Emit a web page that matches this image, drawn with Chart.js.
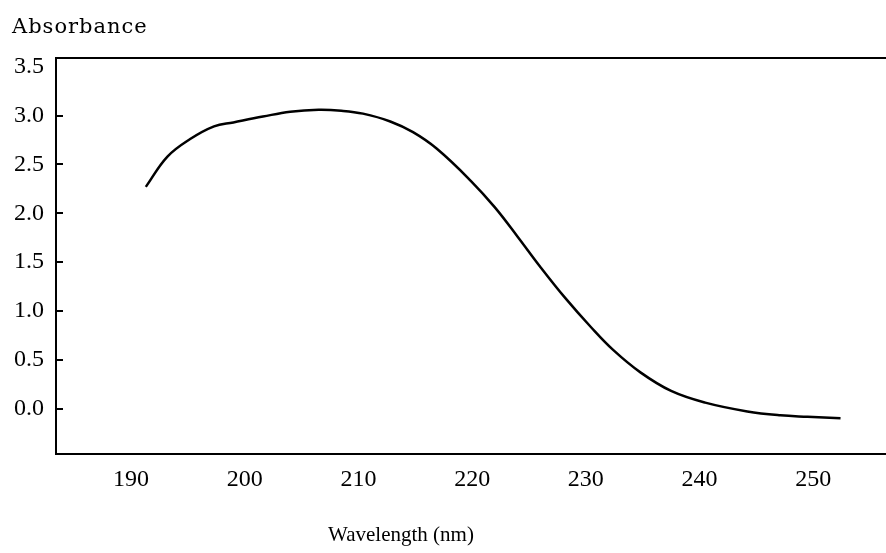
<!DOCTYPE html>
<html>
<head>
<meta charset="utf-8">
<title>Absorbance spectrum</title>
<script src="https://cdn.jsdelivr.net/npm/chart.js@4"></script>
<style>
  html, body { margin: 0; padding: 0; background: #fff; }
  #wrap { width: 886px; height: 553px; position: relative; }
</style>
</head>
<body>
<div id="wrap"><canvas id="spectrum"></canvas></div>
<script>
// spectrum readings
const wavelength = [191.3, 193.2, 195.2, 197.3, 199.0, 201.6, 204.0, 206.5, 208.5,
  210.4, 212.8, 214.8, 216.9, 219.9, 222.0, 224.0, 226.0, 228.2, 230.4,
  232.4, 234.8, 237.5, 240.5, 244.2, 247.1, 249.5, 252.4];
const absorbance = [2.27, 2.58, 2.76, 2.89, 2.93, 2.99, 3.04, 3.06, 3.05,
  3.02, 2.94, 2.83, 2.66, 2.33, 2.06, 1.76, 1.45, 1.13, 0.84,
  0.60, 0.37, 0.18, 0.06, -0.03, -0.07, -0.085, -0.10];

const xTicks = [190, 200, 210, 220, 230, 240, 250];
const yTicks = [0, 0.5, 1.0, 1.5, 2.0, 2.5, 3.0, 3.5];

const numFont = { family: 'Liberation Serif', size: 24 };

// frame line on top + short inward ticks on the y axis + axis titles
const framePlugin = {
  id: 'frame',
  afterDraw(chart) {
    const ctx = chart.ctx;
    const area = chart.chartArea;
    const y = chart.scales.y;
    ctx.save();
    ctx.strokeStyle = '#000';
    ctx.lineWidth = 2;
    ctx.beginPath();
    ctx.moveTo(area.left, area.top);
    ctx.lineTo(area.right, area.top);
    y.ticks.forEach((t, i) => {
      if (i === y.ticks.length - 1) return;
      const py = Math.round(y.getPixelForValue(t.value));
      ctx.moveTo(area.left, py);
      ctx.lineTo(area.left + 7, py);
    });
    ctx.stroke();

    ctx.fillStyle = '#000';
    ctx.textBaseline = 'alphabetic';
    ctx.font = '21px "DejaVu Serif"';
    ctx.letterSpacing = '1px';
    ctx.textAlign = 'left';
    ctx.fillText('Absorbance', 12, 33);
    ctx.letterSpacing = '0px';
    ctx.font = '21px "Liberation Serif"';
    ctx.textAlign = 'center';
    ctx.fillText('Wavelength (nm)', 401, 541);
    ctx.restore();
  }
};

new Chart(document.getElementById('spectrum'), {
  type: 'line',
  data: {
    datasets: [{
      data: wavelength.map((w, i) => ({ x: w, y: absorbance[i] })),
      borderColor: '#000',
      borderWidth: 2.5,
      pointRadius: 0,
      fill: false,
      tension: 0.4
    }]
  },
  options: {
    responsive: true,
    maintainAspectRatio: false,
    animation: false,
    layout: { padding: { top: 58, right: 0, left: 0, bottom: 0 } },
    plugins: { legend: { display: false }, tooltip: { enabled: false } },
    scales: {
      x: {
        type: 'linear',
        min: 183.4,
        max: 256.4,
        afterBuildTicks: s => { s.ticks = xTicks.map(v => ({ value: v })); },
        afterFit: s => { s.height = 99; },
        grid: { display: false, drawTicks: false },
        border: { color: '#000', width: 2 },
        ticks: { color: '#000', font: numFont, padding: 11, maxRotation: 0 }
      },
      y: {
        min: -0.466,
        max: 3.59,
        afterBuildTicks: s => { s.ticks = yTicks.map(v => ({ value: v })); },
        afterFit: s => { s.width = 56; },
        grid: { display: false, drawTicks: false },
        border: { color: '#000', width: 2 },
        ticks: {
          color: '#000', font: numFont, padding: 12,
          callback: v => Number(v).toFixed(1)
        }
      }
    }
  },
  plugins: [framePlugin]
});
</script>
</body>
</html>
